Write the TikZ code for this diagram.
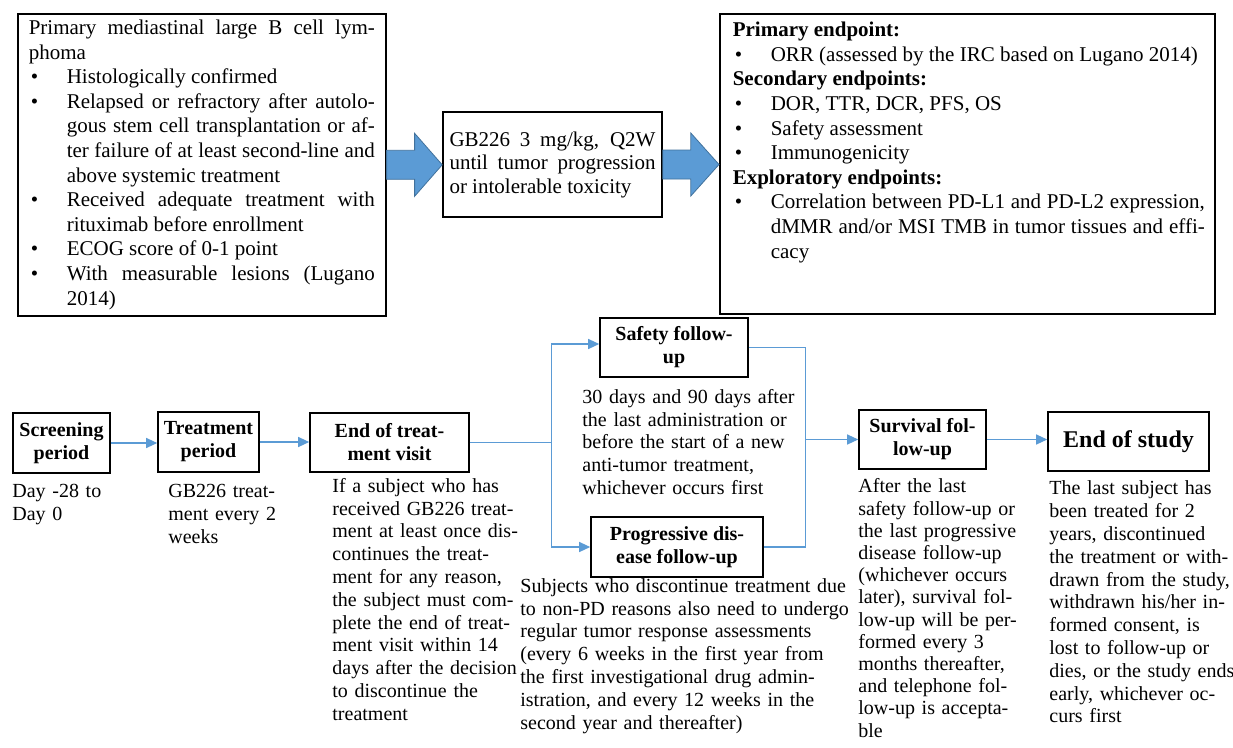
\documentclass[tikz,border=0pt]{standalone}
\usepackage{fontspec}
\setmainfont{Liberation Serif}
\usepackage{tikz}
\usetikzlibrary{arrows.meta, calc, positioning}
\definecolor{flowblue}{RGB}{91,155,213}
\definecolor{flowedge}{RGB}{65,113,156}
\hyphenpenalty=10000
\exhyphenpenalty=10000
\newcommand{\critem}[1]{\par\hangindent=38pt\hangafter=1\noindent\makebox[38pt][l]{\hspace{2pt}\textbullet}#1}
\tikzset{
    critbox/.style={draw=black, line width=1.6pt, align=justify, inner ysep=0pt,
        font=\fontsize{21}{24.6}\selectfont},
    stagebox/.style={draw=black, line width=1.6pt, align=center, inner sep=0pt,
        font=\bfseries\fontsize{20}{23}\selectfont},
    note/.style={anchor=base west, align=left, inner sep=0pt,
        font=\fontsize{20}{22.8}\selectfont},
    flowline/.style={draw=flowblue, line width=1.2pt},
    flow/.style={flowline, -{Triangle[length=11pt,width=10pt]}},
    fatarrow/.style={fill=flowblue, draw=flowedge, line width=0.8pt}
}

\begin{document}
\begin{tikzpicture}[x=1pt, y=-1pt]
    \useasboundingbox (0,0) rectangle (1233,747);

    % inclusion criteria
    \node[critbox, anchor=north west, text width=346, inner xsep=11pt,
        minimum height=302] (crit) at (17,13) {Primary mediastinal large B cell lym-\linebreak phoma
        \critem{Histologically confirmed}
        \critem{Relapsed or refractory after autolo-\linebreak gous stem cell transplantation or af-\linebreak ter failure of at least second-line and\linebreak above systemic treatment}
        \critem{Received adequate treatment with\linebreak rituximab before enrollment}
        \critem{ECOG score of 0-1 point}
        \critem{With measurable lesions (Lugano\linebreak 2014)}\par};

    % regimen
    \node[critbox, text width=206, inner xsep=6.5pt, minimum height=105,
        font=\fontsize{21}{23.5}\selectfont] (gb) at (552.5,164.5)
        {GB226 3 mg/kg, Q2W\linebreak until tumor progression\linebreak or intolerable toxicity};

    % endpoints
    \node[critbox, anchor=north west, minimum width=495, minimum height=300] (ends) at (719,13) {};
    \node[critbox, draw=none, anchor=base west, text width=472, inner sep=0pt]
        (endstext) at ([shift={(13,23.7)}]ends.north west) {\textbf{Primary endpoint:}
        \critem{ORR (assessed by the IRC based on Lugano 2014)}
        \par\noindent\textbf{Secondary endpoints:}
        \critem{DOR, TTR, DCR, PFS, OS}
        \critem{Safety assessment}
        \critem{Immunogenicity}
        \par\noindent\textbf{Exploratory endpoints:}
        \critem{Correlation between PD-L1 and PD-L2 expression,\linebreak dMMR and/or MSI TMB in tumor tissues and effi-\linebreak cacy}\par};

    \foreach \a/\b in {crit/gb, gb/ends}
        \path[fatarrow] (\a.east) ++(0,-14.5) -- ++(28,0) -- ++(0,-17) -- (\a.east -| \b.west)
            -- ($(\a.east)+(28,31.5)$) -- ++(0,-17) -- ++(-28,0) -- cycle;

    % study stages
    \node[stagebox, minimum width=97, minimum height=60] (scr) at (61.5,443) {Screening\\period};
    \node[stagebox, minimum width=101, minimum height=60] (trt) at (208.5,442) {Treatment\\period};
    \node[stagebox, minimum width=159, minimum height=59] (eot) at (389.5,442.5) {End of treat-\\ment visit};
    \node[stagebox, minimum width=148, minimum height=59] (saf) at (674,347.5) {Safety follow-\\up};
    \node[stagebox, minimum width=172, minimum height=60] (prog) at (677,547) {Progressive dis-\\ease follow-up};
    \node[stagebox, minimum width=127, minimum height=59] (surv) at (922.5,439.5) {Survival fol-\\low-up};
    \node[stagebox, minimum width=161, minimum height=59,
        font=\bfseries\fontsize{24}{28}\selectfont] (eos) at (1128.5,441.5) {End of study};

    \foreach \a/\b in {scr/trt, trt/eot, surv/eos}
        \draw[flow] (\a.east) -- (\a.east -| \b.west);
    \coordinate (split) at ($(eot.east)+(82,0)$);
    \coordinate (merge) at ($(surv.west)+(-53,0)$);
    \draw[flowline] (eot.east) -- (split);
    \draw[flow] (split) |- ([yshift=3.5pt]saf.west);
    \draw[flow] (split) |- (prog.west);
    \draw[flowline] (saf.east) -| (merge) |- (prog.east);
    \draw[flow] (merge) -- (surv.west);

    % stage notes
    \node[note, text width=120] (scrnote) at ([shift={(0,24)}]scr.south west) {Day -28 to\\Day 0};
    \node[note, text width=130] (trtnote) at ([shift={(11,25)}]trt.south west) {GB226 treat-\\ment every 2\\weeks};
    \node[note, text width=210] (eotnote) at ([shift={(23,19.5)}]eot.south west)
        {If a subject who has\\received GB226 treat-\\ment at least once dis-\\continues the treat-\\ment for any reason,\\the subject must com-\\plete the end of treat-\\ment visit within 14\\days after the decision\\to discontinue the\\treatment};
    \node[note, text width=240] (safnote) at ([shift={(-17,25.5)}]saf.south west)
        {30 days and 90 days after\\the last administration or\\before the start of a new\\anti-tumor treatment,\\whichever occurs first};
    \node[note, text width=360] (prognote) at ([shift={(-70,14.5)}]prog.south west)
        {Subjects who discontinue treatment due\\to non-PD reasons also need to undergo\\regular tumor response assessments\\(every 6 weeks in the first year from\\the first investigational drug admin-\\istration, and every 12 weeks in the\\second year and thereafter)};
    \node[note, text width=180, font=\fontsize{20}{22.2}\selectfont] (survnote) at ([shift={(0,23)}]surv.south west)
        {After the last\\safety follow-up or\\the last progressive\\disease follow-up\\(whichever occurs\\later), survival fol-\\low-up will be per-\\formed every 3\\months thereafter,\\and telephone fol-\\low-up is accepta-\\ble};
    \node[note, text width=200] (eosnote) at ([shift={(2,23)}]eos.south west)
        {The last subject has\\been treated for 2\\years, discontinued\\the treatment or with-\\drawn from the study,\\withdrawn his/her in-\\formed consent, is\\lost to follow-up or\\dies, or the study ends\\early, whichever oc-\\curs first};
\end{tikzpicture}
\end{document}
